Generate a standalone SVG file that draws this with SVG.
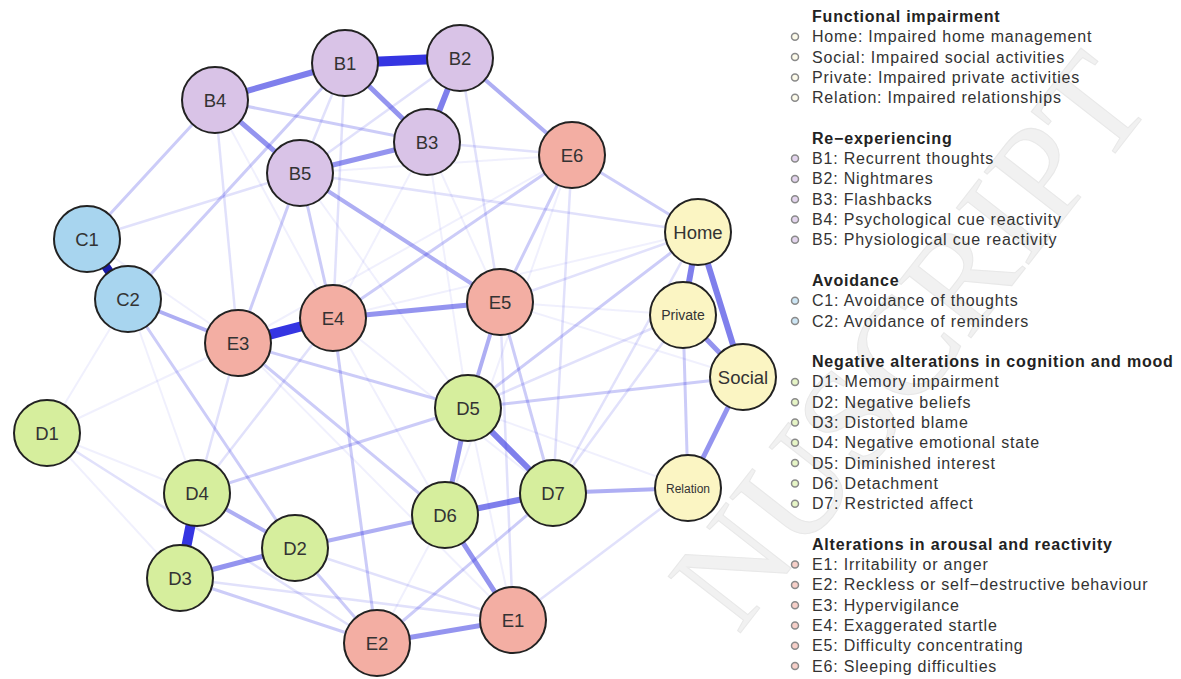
<svg xmlns="http://www.w3.org/2000/svg" width="1181" height="679" viewBox="0 0 1181 679">
<style>
.bg{fill:#ffffff}
.wm{font-family:"Liberation Serif",serif;font-size:140px;fill:#f1f1f1;stroke:#e8e8e8;stroke-width:1}
#edges line{stroke:#2a2ae0;stroke-linecap:round;fill:none}
.s{stroke-width:10;opacity:.95}
.sd{stroke-width:9;opacity:1;stroke:#1a1aa8 !important}
.m1{stroke-width:6;opacity:.6}
.m2{stroke-width:5;opacity:.5}
.m3{stroke-width:4;opacity:.38}
.l1{stroke-width:3;opacity:.24}
.l2{stroke-width:2.5;opacity:.14}
.l3{stroke-width:2;opacity:.07}
.n circle{stroke:#222;stroke-width:2}
.n text{font-family:"Liberation Sans",Arial,sans-serif;font-size:18.5px;fill:#333;text-anchor:middle}
.B circle{fill:#d9c3e7}
.C circle{fill:#a8d5ef}
.D circle{fill:#d6ee9d}
.E circle{fill:#f3aea3}
.F circle{fill:#fbf5c3}
.lg text{font-family:"Liberation Sans",Arial,sans-serif;font-size:16px;fill:#333;letter-spacing:.8px}
.lg text.h{font-weight:bold;fill:#222}
.lg circle{stroke:#8a8a8a;stroke-width:1.5;r:3.5}
</style>
<rect class="bg" x="0" y="0" width="1181" height="679"/>
<text class="wm" transform="translate(738,636) rotate(-52)">NUSCRIPT</text>
<g id="edges">
<line class="l3" x1="47" y1="433" x2="128" y2="299"/>
<line class="l3" x1="47" y1="433" x2="197" y2="493"/>
<line class="l3" x1="47" y1="433" x2="238" y2="343"/>
<line class="l3" x1="47" y1="433" x2="180" y2="578"/>
<line class="l3" x1="572" y1="155" x2="445" y2="515"/>
<line class="l3" x1="572" y1="155" x2="300" y2="173"/>
<line class="l3" x1="572" y1="155" x2="238" y2="343"/>
<line class="l3" x1="427" y1="142" x2="333" y2="318"/>
<line class="l3" x1="427" y1="142" x2="500" y2="302"/>
<line class="l3" x1="215" y1="100" x2="333" y2="318"/>
<line class="l3" x1="87" y1="239" x2="238" y2="343"/>
<line class="l3" x1="128" y1="299" x2="197" y2="493"/>
<line class="l3" x1="333" y1="318" x2="445" y2="515"/>
<line class="l3" x1="333" y1="318" x2="553" y2="493"/>
<line class="l3" x1="238" y1="343" x2="513" y2="620"/>
<line class="l3" x1="468" y1="408" x2="513" y2="620"/>
<line class="l3" x1="743" y1="377" x2="500" y2="302"/>
<line class="l3" x1="698" y1="232" x2="333" y2="318"/>
<line class="l3" x1="683" y1="315" x2="500" y2="302"/>
<line class="l3" x1="688" y1="488" x2="468" y2="408"/>
<line class="l3" x1="300" y1="173" x2="468" y2="408"/>
<line class="l3" x1="427" y1="142" x2="468" y2="408"/>
<line class="l3" x1="377" y1="643" x2="445" y2="515"/>
<line class="l2" x1="87" y1="239" x2="300" y2="173"/>
<line class="l2" x1="215" y1="100" x2="238" y2="343"/>
<line class="l2" x1="427" y1="142" x2="572" y2="155"/>
<line class="l2" x1="572" y1="155" x2="553" y2="493"/>
<line class="l2" x1="683" y1="315" x2="468" y2="408"/>
<line class="l2" x1="688" y1="488" x2="513" y2="620"/>
<line class="l2" x1="500" y1="302" x2="513" y2="620"/>
<line class="l2" x1="238" y1="343" x2="197" y2="493"/>
<line class="l2" x1="47" y1="433" x2="377" y2="643"/>
<line class="l2" x1="295" y1="548" x2="513" y2="620"/>
<line class="l2" x1="180" y1="578" x2="513" y2="620"/>
<line class="l2" x1="197" y1="493" x2="333" y2="318"/>
<line class="l2" x1="553" y1="493" x2="683" y2="315"/>
<line class="l2" x1="553" y1="493" x2="698" y2="232"/>
<line class="l2" x1="698" y1="232" x2="300" y2="173"/>
<line class="l2" x1="698" y1="232" x2="500" y2="302"/>
<line class="l2" x1="345" y1="63" x2="333" y2="318"/>
<line class="l2" x1="345" y1="63" x2="300" y2="173"/>
<line class="l2" x1="460" y1="58" x2="300" y2="173"/>
<line class="l2" x1="460" y1="58" x2="500" y2="302"/>
<line class="l1" x1="683" y1="315" x2="688" y2="488"/>
<line class="l1" x1="500" y1="302" x2="553" y2="493"/>
<line class="l1" x1="197" y1="493" x2="468" y2="408"/>
<line class="l1" x1="572" y1="155" x2="333" y2="318"/>
<line class="l1" x1="180" y1="578" x2="377" y2="643"/>
<line class="l1" x1="238" y1="343" x2="468" y2="408"/>
<line class="l1" x1="215" y1="100" x2="87" y2="239"/>
<line class="l1" x1="300" y1="173" x2="333" y2="318"/>
<line class="l1" x1="300" y1="173" x2="238" y2="343"/>
<line class="l1" x1="572" y1="155" x2="698" y2="232"/>
<line class="l1" x1="572" y1="155" x2="500" y2="302"/>
<line class="l1" x1="698" y1="232" x2="468" y2="408"/>
<line class="l1" x1="743" y1="377" x2="468" y2="408"/>
<line class="l1" x1="295" y1="548" x2="377" y2="643"/>
<line class="l1" x1="128" y1="299" x2="295" y2="548"/>
<line class="l1" x1="238" y1="343" x2="445" y2="515"/>
<line class="l1" x1="333" y1="318" x2="377" y2="643"/>
<line class="l1" x1="377" y1="643" x2="553" y2="493"/>
<line class="l1" x1="215" y1="100" x2="427" y2="142"/>
<line class="l1" x1="128" y1="299" x2="345" y2="63"/>
<line class="m3" x1="460" y1="58" x2="572" y2="155"/>
<line class="m3" x1="197" y1="493" x2="295" y2="548"/>
<line class="m3" x1="295" y1="548" x2="445" y2="515"/>
<line class="m3" x1="553" y1="493" x2="688" y2="488"/>
<line class="m3" x1="128" y1="299" x2="238" y2="343"/>
<line class="m3" x1="500" y1="302" x2="468" y2="408"/>
<line class="m3" x1="300" y1="173" x2="500" y2="302"/>
<line class="m2" x1="215" y1="100" x2="300" y2="173"/>
<line class="m2" x1="345" y1="63" x2="427" y2="142"/>
<line class="m2" x1="427" y1="142" x2="300" y2="173"/>
<line class="m2" x1="333" y1="318" x2="500" y2="302"/>
<line class="m2" x1="468" y1="408" x2="445" y2="515"/>
<line class="m2" x1="445" y1="515" x2="513" y2="620"/>
<line class="m2" x1="513" y1="620" x2="377" y2="643"/>
<line class="m2" x1="180" y1="578" x2="295" y2="548"/>
<line class="m2" x1="743" y1="377" x2="688" y2="488"/>
<line class="m2" x1="683" y1="315" x2="743" y2="377"/>
<line class="m1" x1="345" y1="63" x2="215" y2="100"/>
<line class="m1" x1="460" y1="58" x2="427" y2="142"/>
<line class="m1" x1="445" y1="515" x2="553" y2="493"/>
<line class="m1" x1="698" y1="232" x2="683" y2="315"/>
<line class="m1" x1="698" y1="232" x2="743" y2="377"/>
<line class="m1" x1="468" y1="408" x2="553" y2="493"/>
<line class="s" x1="345" y1="63" x2="460" y2="58"/>
<line class="s" x1="238" y1="343" x2="333" y2="318"/>
<line class="s" x1="197" y1="493" x2="180" y2="578"/>
<line class="sd" x1="87" y1="239" x2="128" y2="299"/>
</g>
<g id="node-B1" class="n B"><circle cx="345" cy="63" r="33"/><text x="345" y="69.5">B1</text></g>
<g id="node-B2" class="n B"><circle cx="460" cy="58" r="33"/><text x="460" y="64.5">B2</text></g>
<g id="node-B3" class="n B"><circle cx="427" cy="142" r="33"/><text x="427" y="148.5">B3</text></g>
<g id="node-B4" class="n B"><circle cx="215" cy="100" r="33"/><text x="215" y="106.5">B4</text></g>
<g id="node-B5" class="n B"><circle cx="300" cy="173" r="33"/><text x="300" y="179.5">B5</text></g>
<g id="node-C1" class="n C"><circle cx="87" cy="239" r="33"/><text x="87" y="245.5">C1</text></g>
<g id="node-C2" class="n C"><circle cx="128" cy="299" r="33"/><text x="128" y="305.5">C2</text></g>
<g id="node-E1" class="n E"><circle cx="513" cy="620" r="33"/><text x="513" y="626.5">E1</text></g>
<g id="node-E2" class="n E"><circle cx="377" cy="643" r="33"/><text x="377" y="649.5">E2</text></g>
<g id="node-E3" class="n E"><circle cx="238" cy="343" r="33"/><text x="238" y="349.5">E3</text></g>
<g id="node-E4" class="n E"><circle cx="333" cy="318" r="33"/><text x="333" y="324.5">E4</text></g>
<g id="node-E5" class="n E"><circle cx="500" cy="302" r="33"/><text x="500" y="308.5">E5</text></g>
<g id="node-E6" class="n E"><circle cx="572" cy="155" r="33"/><text x="572" y="161.5">E6</text></g>
<g id="node-D1" class="n D"><circle cx="47" cy="433" r="33"/><text x="47" y="439.5">D1</text></g>
<g id="node-D2" class="n D"><circle cx="295" cy="548" r="33"/><text x="295" y="554.5">D2</text></g>
<g id="node-D3" class="n D"><circle cx="180" cy="578" r="33"/><text x="180" y="584.5">D3</text></g>
<g id="node-D4" class="n D"><circle cx="197" cy="493" r="33"/><text x="197" y="499.5">D4</text></g>
<g id="node-D5" class="n D"><circle cx="468" cy="408" r="33"/><text x="468" y="414.5">D5</text></g>
<g id="node-D6" class="n D"><circle cx="445" cy="515" r="33"/><text x="445" y="521.5">D6</text></g>
<g id="node-D7" class="n D"><circle cx="553" cy="493" r="33"/><text x="553" y="499.5">D7</text></g>
<g id="node-Home" class="n F"><circle cx="698" cy="232" r="33"/><text x="698" y="238.5">Home</text></g>
<g id="node-Private" class="n F"><circle cx="683" cy="315" r="33"/><text x="683" y="320" style="font-size:14px">Private</text></g>
<g id="node-Social" class="n F"><circle cx="743" cy="377" r="33"/><text x="743" y="383.5">Social</text></g>
<g id="node-Relation" class="n F"><circle cx="688" cy="488" r="33"/><text x="688" y="492.5" style="font-size:12px">Relation</text></g>
<g id="legend" class="lg">
<text class="h" x="812" y="22">Functional impairment</text>
<circle cx="795" cy="36.8" style="fill:#fdfbea"/><text x="812" y="42.3">Home: Impaired home management</text>
<circle cx="795" cy="57.1" style="fill:#fdfbea"/><text x="812" y="62.6">Social: Impaired social activities</text>
<circle cx="795" cy="77.4" style="fill:#fdfbea"/><text x="812" y="82.9">Private: Impaired private activities</text>
<circle cx="795" cy="97.7" style="fill:#fdfbea"/><text x="812" y="103.2">Relation: Impaired relationships</text>
<text class="h" x="812" y="143.8">Re−experiencing</text>
<circle cx="795" cy="158.6" style="fill:#e4d5ee"/><text x="812" y="164.1">B1: Recurrent thoughts</text>
<circle cx="795" cy="178.9" style="fill:#e4d5ee"/><text x="812" y="184.4">B2: Nightmares</text>
<circle cx="795" cy="199.2" style="fill:#e4d5ee"/><text x="812" y="204.7">B3: Flashbacks</text>
<circle cx="795" cy="219.5" style="fill:#e4d5ee"/><text x="812" y="225">B4: Psychological cue reactivity</text>
<circle cx="795" cy="239.8" style="fill:#e4d5ee"/><text x="812" y="245.3">B5: Physiological cue reactivity</text>
<text class="h" x="812" y="285.9">Avoidance</text>
<circle cx="795" cy="300.7" style="fill:#cde6f5"/><text x="812" y="306.2">C1: Avoidance of thoughts</text>
<circle cx="795" cy="321" style="fill:#cde6f5"/><text x="812" y="326.5">C2: Avoidance of reminders</text>
<text class="h" x="812" y="367.1">Negative alterations in cognition and mood</text>
<circle cx="795" cy="381.9" style="fill:#e6f5c6"/><text x="812" y="387.4">D1: Memory impairment</text>
<circle cx="795" cy="402.2" style="fill:#e6f5c6"/><text x="812" y="407.7">D2: Negative beliefs</text>
<circle cx="795" cy="422.5" style="fill:#e6f5c6"/><text x="812" y="428">D3: Distorted blame</text>
<circle cx="795" cy="442.8" style="fill:#e6f5c6"/><text x="812" y="448.3">D4: Negative emotional state</text>
<circle cx="795" cy="463.1" style="fill:#e6f5c6"/><text x="812" y="468.6">D5: Diminished interest</text>
<circle cx="795" cy="483.4" style="fill:#e6f5c6"/><text x="812" y="488.9">D6: Detachment</text>
<circle cx="795" cy="503.7" style="fill:#e6f5c6"/><text x="812" y="509.2">D7: Restricted affect</text>
<text class="h" x="812" y="549.8">Alterations in arousal and reactivity</text>
<circle cx="795" cy="564.6" style="fill:#f7cfc8"/><text x="812" y="570.1">E1: Irritability or anger</text>
<circle cx="795" cy="584.9" style="fill:#f7cfc8"/><text x="812" y="590.4">E2: Reckless or self−destructive behaviour</text>
<circle cx="795" cy="605.2" style="fill:#f7cfc8"/><text x="812" y="610.7">E3: Hypervigilance</text>
<circle cx="795" cy="625.5" style="fill:#f7cfc8"/><text x="812" y="631">E4: Exaggerated startle</text>
<circle cx="795" cy="645.8" style="fill:#f7cfc8"/><text x="812" y="651.3">E5: Difficulty concentrating</text>
<circle cx="795" cy="666.1" style="fill:#f7cfc8"/><text x="812" y="671.6">E6: Sleeping difficulties</text>
</g>
</svg>
